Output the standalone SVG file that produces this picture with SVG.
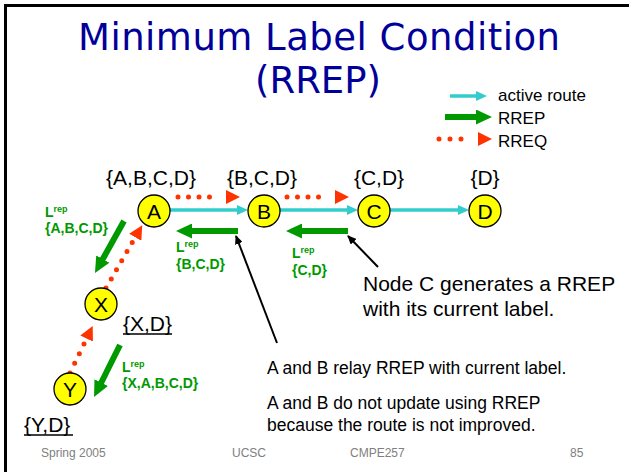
<svg xmlns="http://www.w3.org/2000/svg" width="629" height="472" viewBox="0 0 629 472">
<defs>
<style>
text{font-family:"Liberation Sans",Arial,sans-serif}
.title{font-family:"DejaVu Sans","Liberation Sans",sans-serif;font-size:37px;fill:#000099}
.leg{font-size:17px;fill:#000}
.node circle{fill:#ffff00;stroke:#000;stroke-width:1.3}
.node text{font-size:21px;fill:#000;text-anchor:middle}
.set{font-size:21px;fill:#000;text-anchor:middle}
.uset{font-size:21px;fill:#000}
.ul{stroke:#000;stroke-width:1.5}
.lrep{font-size:14px;font-weight:bold;fill:#009900}
.sup{font-size:9px}
.note{font-size:17.5px;fill:#000}
.big{font-size:21px;fill:#000}
.foot{font-size:12px;fill:#808080}
.route{stroke:#33cccc;stroke-width:3.5;fill:none;marker-end:url(#mCyan)}
.rrep{stroke:#009900;stroke-width:6;fill:none;marker-end:url(#mGreen)}
.rreq{stroke:#ff3300;stroke-width:5;stroke-linecap:round;fill:none;marker-end:url(#mRed)}
.ptr{stroke:#000;stroke-width:2;fill:none;marker-end:url(#mBlack)}
</style>
<marker id="mCyan" markerUnits="userSpaceOnUse" markerWidth="11" markerHeight="10" viewBox="0 0 11 10" refX="1" refY="5" orient="auto"><path d="M0,0 L11,5 L0,10 z" fill="#33cccc"/></marker>
<marker id="mGreen" markerUnits="userSpaceOnUse" markerWidth="16" markerHeight="15" viewBox="0 0 16 15" refX="2" refY="7.5" orient="auto"><path d="M0,0 L16,7.5 L0,15 z" fill="#009900"/></marker>
<marker id="mRed" markerUnits="userSpaceOnUse" markerWidth="14" markerHeight="14" viewBox="0 0 14 14" refX="-6" refY="7" orient="auto"><path d="M0,0 L14,7 L0,14 z" fill="#ff3300"/></marker>
<marker id="mBlack" markerUnits="userSpaceOnUse" markerWidth="9" markerHeight="8" viewBox="0 0 9 8" refX="8" refY="4" orient="auto"><path d="M0,0 L9,4 L0,8 z" fill="#000"/></marker>
</defs>
<rect width="629" height="472" fill="#fff"/>
<path d="M5.5,472 V5.5 H629" fill="none" stroke="#000" stroke-width="3"/>

<g id="title">
<text class="title" x="78" y="50" textLength="482" lengthAdjust="spacing">Minimum Label Condition</text>
<text class="title" x="318" y="93" text-anchor="middle">(RREP)</text>
</g>

<g id="legend">
<line class="route" x1="450" y1="96" x2="477" y2="96"/>
<line class="rrep" x1="445" y1="117" x2="478" y2="117"/>
<line class="rreq" x1="439" y1="139" x2="472" y2="139" stroke-dasharray="0 11"/>
<text class="leg" x="498" y="101">active route</text>
<text class="leg" x="498" y="124">RREP</text>
<text class="leg" x="498" y="147">RREQ</text>
</g>

<g id="connectors">
<line class="route" x1="170" y1="210" x2="238" y2="210"/>
<line class="route" x1="280" y1="210" x2="348" y2="210"/>
<line class="route" x1="390" y1="210" x2="459" y2="210"/>
<line class="rreq" x1="178" y1="197" x2="220" y2="197" stroke-dasharray="0 10.5"/>
<line class="rreq" x1="287" y1="197" x2="329" y2="197" stroke-dasharray="0 10.5"/>
<line class="rreq" x1="106" y1="288" x2="132.25" y2="242.5" stroke-dasharray="0 10.5"/>
<line class="rreq" x1="70" y1="373" x2="84" y2="344" stroke-dasharray="0 10.73"/>
<line class="rrep" x1="238" y1="231" x2="190" y2="231"/>
<line class="rrep" x1="348" y1="231" x2="300" y2="231"/>
<line class="rrep" x1="124" y1="221" x2="101.8" y2="260.8"/>
<line class="rrep" x1="120" y1="345" x2="100.3" y2="384.5"/>
<line class="ptr" x1="277" y1="343" x2="236" y2="236"/>
<line class="ptr" x1="378" y1="267" x2="348" y2="236"/>
</g>

<g id="node-A" class="node"><circle cx="154" cy="211" r="16"/><text x="154" y="218.5">A</text></g>
<g id="node-B" class="node"><circle cx="264" cy="211" r="16"/><text x="264" y="218.5">B</text></g>
<g id="node-C" class="node"><circle cx="374" cy="211" r="16"/><text x="374" y="218.5">C</text></g>
<g id="node-D" class="node"><circle cx="485" cy="211" r="16"/><text x="485" y="218.5">D</text></g>
<g id="node-X" class="node"><circle cx="101" cy="304" r="16"/><text x="101" y="311.5">X</text></g>
<g id="node-Y" class="node"><circle cx="70" cy="389" r="16"/><text x="70" y="396.5">Y</text></g>

<g id="sets">
<text class="set" x="151" y="185">{A,B,C,D}</text>
<text class="set" x="262" y="185">{B,C,D}</text>
<text class="set" x="379" y="185">{C,D}</text>
<text class="set" x="485" y="185">{D}</text>
<text class="uset" x="123" y="331">{X,D}</text>
<line class="ul" x1="123" y1="334" x2="172" y2="334"/>
<text class="uset" x="24" y="432">{Y,D}</text>
<line class="ul" x1="24" y1="435" x2="73" y2="435"/>
</g>

<g id="labels">
<text class="lrep" x="45" y="217">L<tspan class="sup" dy="-5">rep</tspan></text>
<text class="lrep" x="45" y="233">{A,B,C,D}</text>
<text class="lrep" x="176" y="252">L<tspan class="sup" dy="-5">rep</tspan></text>
<text class="lrep" x="176" y="269">{B,C,D}</text>
<text class="lrep" x="292" y="258">L<tspan class="sup" dy="-5">rep</tspan></text>
<text class="lrep" x="292" y="275">{C,D}</text>
<text class="lrep" x="122" y="372">L<tspan class="sup" dy="-5">rep</tspan></text>
<text class="lrep" x="122" y="388">{X,A,B,C,D}</text>
</g>

<g id="notes">
<text class="big" x="363" y="291">Node C generates a RREP</text>
<text class="big" x="363" y="316">with its current label.</text>
<text class="note" x="267" y="374">A and B relay RREP with current label.</text>
<text class="note" x="267" y="409">A and B do not update using RREP</text>
<text class="note" x="267" y="431">because the route is not improved.</text>
</g>

<g id="footer">
<text class="foot" x="41" y="457">Spring 2005</text>
<text class="foot" x="232" y="457">UCSC</text>
<text class="foot" x="350" y="457">CMPE257</text>
<text class="foot" x="570" y="457">85</text>
</g>
</svg>
